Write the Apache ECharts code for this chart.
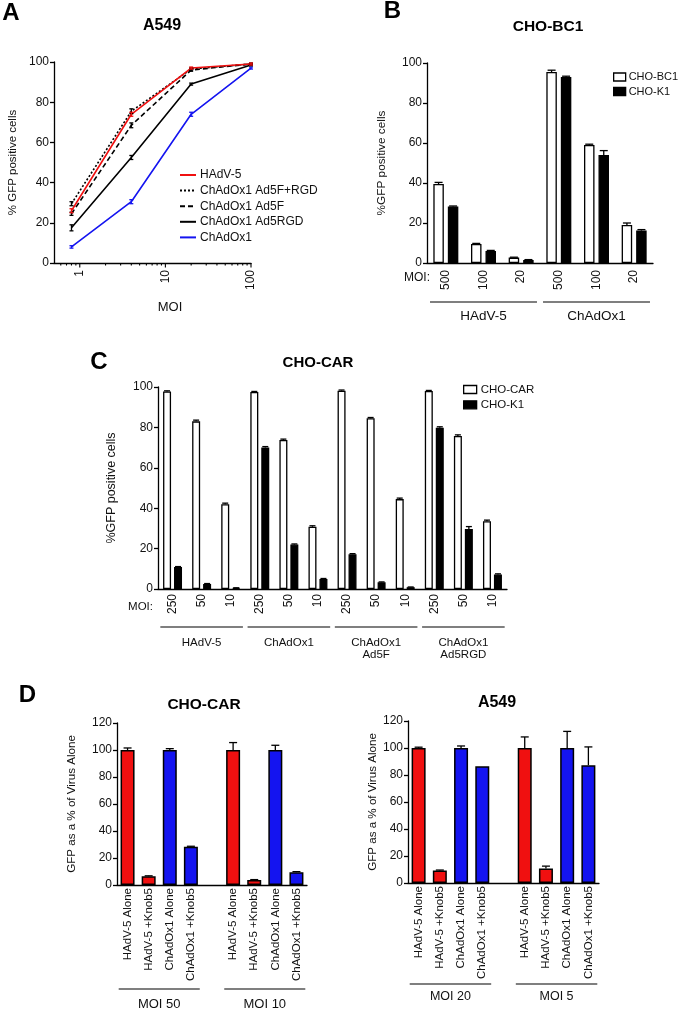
<!DOCTYPE html>
<html><head><meta charset="utf-8">
<script src="https://cdn.jsdelivr.net/npm/echarts@6/dist/echarts.min.js"></script>
<style>html,body{margin:0;padding:0;background:#fff}#c{width:685px;height:1009px}</style>
</head><body><div id="c"></div><script>
// ---------- Panel A : A549 (line, log x) ----------
const aMOI = [0.8, 4, 20, 100];
const aNames = ['HAdV-5', 'ChAdOx1 Ad5F+RGD', 'ChAdOx1 Ad5F', 'ChAdOx1 Ad5RGD', 'ChAdOx1'];
const aHAdV5 = [26, 74, 97, 99];
const aAd5FRGD = [29.5, 75.5, 96.5, 99];
const aAd5F = [24.5, 68.5, 96, 99];
const aAd5RGD = [17.5, 52.5, 89, 98.5];
const aChAdOx1 = [8, 30.5, 74, 97];
const aHAdV5Err = [1, 1, 0.5, 0.5];
const aAd5FRGDErr = [1, 1.2, 0.6, 0.4];
const aAd5FErr = [0.8, 1.2, 0.6, 0.4];
const aAd5RGDErr = [1.5, 1, 0.5, 0.4];
const aChAdOx1Err = [0.6, 1, 1, 0.5];
const aTickVals = [0.6, 0.7, 0.8, 0.9, 1, 2, 3, 4, 5, 6, 7, 8, 9, 10, 20, 30, 40, 50, 60, 70, 80, 90, 100];

// ---------- Panel B : CHO-BC1 ----------
const bCats = ['500', '100', '20', '500', '100', '20'];
const bBC1 = [39.5, 9.5, 2.7, 95.5, 59, 19];
const bBC1Err = [0.8, 0.3, 0.2, 0.9, 0.4, 1.0];
const bK1 = [28.3, 6, 1.5, 93, 54, 16.2];
const bK1Err = [0.2, 0.3, 0.2, 0.4, 2.2, 0.5];
const bGroups = [[0, 2, 'HAdV-5'], [3, 5, 'ChAdOx1']];

// ---------- Panel C : CHO-CAR ----------
const cCats = ['250', '50', '10', '250', '50', '10', '250', '50', '10', '250', '50', '10'];
const cCAR = [97.8, 83, 42, 97.5, 73.8, 30.8, 98.2, 84.5, 44.5, 98, 75.8, 33.6];
const cCARErr = [0.3, 0.6, 0.5, 0.3, 0.4, 0.5, 0.3, 0.4, 0.5, 0.3, 0.5, 0.5];
const cK1 = [10.9, 2.5, 0.5, 70, 22, 5, 17.2, 3.3, 0.9, 79.8, 29.7, 7.2];
const cK1Err = [0.2, 0.2, 0.1, 0.5, 0.3, 0.2, 0.3, 0.2, 0.1, 0.5, 1.2, 0.3];
const cGroups = [[0, 2, 'HAdV-5'], [3, 5, 'ChAdOx1'], [6, 8, 'ChAdOx1\nAd5F'], [9, 11, 'ChAdOx1\nAd5RGD']];

// ---------- Panel D : Knob5 competition ----------
const dCats = ['HAdV-5 Alone', 'HAdV-5 +Knob5', 'ChAdOx1 Alone', 'ChAdOx1 +Knob5', '',
               'HAdV-5 Alone', 'HAdV-5 +Knob5', 'ChAdOx1 Alone', 'ChAdOx1 +Knob5'];
const dCarVals = [100, 6.5, 100, 28.3, '-', 100, 3.7, 100, 9.5];
const dCarErr = [1.5, 0.3, 1, 0.4, 0, 5.5, 0.3, 3.5, 0.4];
const dCarGroups = [[0, 3, 'MOI 50'], [5, 8, 'MOI 10']];
const dA549Vals = [100, 9.3, 100, 86.5, '-', 100, 10.8, 100, 87.3];
const dA549Err = [0.6, 0.3, 1.5, 0, 0, 8.2, 1.7, 12.3, 13.5];
const dA549Groups = [[0, 3, 'MOI 20'], [5, 8, 'MOI 5']];

const FONT = "'Liberation Sans', Arial, Helvetica, sans-serif";
const TXT = '#111';
const RED = '#f01010', BLUE = '#1414f0';

function yAx(gi, max, name, gap, nameSize) {
  return {
    type: 'value', gridIndex: gi, min: 0, max: max, interval: 20,
    name: name, nameLocation: 'middle', nameGap: gap,
    nameTextStyle: { fontFamily: FONT, fontSize: nameSize, color: TXT },
    axisLine: { show: true, lineStyle: { color: '#000', width: 1.3 } },
    axisTick: { show: true, length: 4, lineStyle: { color: '#000', width: 1.3 } },
    axisLabel: { fontFamily: FONT, fontSize: 12, color: TXT, margin: 5 },
    splitLine: { show: false }
  };
}
function catAx(gi, cats, fs, margin) {
  return {
    type: 'category', gridIndex: gi, data: cats,
    axisLine: { show: true, lineStyle: { color: '#000', width: 1.3 } },
    axisTick: { show: false },
    axisLabel: { interval: 0, rotate: 90, fontFamily: FONT, fontSize: fs, color: TXT, margin: margin },
    splitLine: { show: false }
  };
}
function errSeries(xi, data, color, dx, both, capW) {
  return {
    type: 'custom', xAxisIndex: xi, yAxisIndex: xi, silent: true, z: 6,
    data: data,
    renderItem: function (params, api) {
      const x = api.value(0), y = api.value(1), e = api.value(2);
      if (!(e > 0)) return null;
      const t = api.coord([x, y + e]);
      const b = api.coord([x, both ? y - e : y]);
      const cx = t[0] + dx;
      const st = { stroke: color, lineWidth: 1.3 };
      const ch = [
        { type: 'line', shape: { x1: cx, y1: t[1], x2: cx, y2: b[1] }, style: st },
        { type: 'line', shape: { x1: cx - capW / 2, y1: t[1], x2: cx + capW / 2, y2: t[1] }, style: st }
      ];
      if (both) ch.push({ type: 'line', shape: { x1: cx - capW / 2, y1: b[1], x2: cx + capW / 2, y2: b[1] }, style: st });
      return { type: 'group', children: ch };
    }
  };
}
function bracketSeries(xi, groups, lineOff, textOff, fs, lh) {
  return {
    type: 'custom', xAxisIndex: xi, yAxisIndex: xi, silent: true,
    data: groups.map(g => [g[0], 0, g[1]]),
    renderItem: function (params, api) {
      const p0 = api.coord([api.value(0), 0]);
      const p1 = api.coord([api.value(2), 0]);
      const w = api.size([1, 0])[0];
      const x1 = p0[0] - w * 0.42, x2 = p1[0] + w * 0.42;
      const y = p0[1] + lineOff;
      return { type: 'group', children: [
        { type: 'line', shape: { x1: x1, y1: y, x2: x2, y2: y }, style: { stroke: '#000', lineWidth: 1.2 } },
        { type: 'text', x: (x1 + x2) / 2, y: p0[1] + textOff,
          style: { text: groups[params.dataIndex][2], fill: TXT, font: fs + 'px ' + FONT,
                   align: 'center', verticalAlign: 'top', textAlign: 'center', textVerticalAlign: 'top', lineHeight: lh } }
      ] };
    }
  };
}
const toErr = (xs, ys, es) => ys.map((v, i) => [xs[i], v, es[i]]);
const idx = arr => arr.map((_, i) => i);

function lineS(name, vals, color, type, z) {
  return {
    name: name, type: 'line', xAxisIndex: 0, yAxisIndex: 0, z: z,
    data: vals.map((v, i) => [aMOI[i], v]),
    symbol: 'none', lineStyle: { color: color, width: 1.6, type: type }, itemStyle: { color: color }
  };
}
function barWhite(name, xi, vals, w, gap) {
  return { name: name, type: 'bar', xAxisIndex: xi, yAxisIndex: xi, data: vals, barWidth: w, barGap: gap,
    itemStyle: { color: '#fff', borderColor: '#000', borderWidth: 1.3 } };
}
function barBlack(name, xi, vals, w, gap) {
  return { name: name, type: 'bar', xAxisIndex: xi, yAxisIndex: xi, data: vals, barWidth: w, barGap: gap,
    itemStyle: { color: '#000', borderColor: '#000', borderWidth: 1.3 } };
}
function dBar(xi, vals) {
  return { type: 'bar', xAxisIndex: xi, yAxisIndex: xi, data: vals, barWidth: 14,
    itemStyle: { borderColor: '#000', borderWidth: 1.5,
      color: p => (dCats[p.dataIndex].indexOf('HAdV') === 0 ? RED : BLUE) } };
}

const isPow10 = v => Math.abs(Math.log10(v) - Math.round(Math.log10(v))) < 1e-6;

const option = {
  backgroundColor: '#fff',
  animation: false,
  textStyle: { fontFamily: FONT },
  grid: [
    { left: 54, top: 62, width: 197, height: 201 },
    { left: 427, top: 63, width: 226, height: 200 },
    { left: 158, top: 387, width: 349, height: 202 },
    { left: 117, top: 723, width: 190, height: 162 },
    { left: 408, top: 721, width: 191, height: 162 }
  ],
  xAxis: [
    { type: 'log', gridIndex: 0, logBase: 10, min: 0.5, max: 100,
      axisLine: { show: true, lineStyle: { color: '#000', width: 1.3 } },
      axisTick: { show: false },
      axisLabel: { rotate: 90, fontFamily: FONT, fontSize: 12, color: TXT, margin: 7,
        showMinLabel: false,
        formatter: v => (isPow10(v) ? String(Math.round(v)) : '') },
      splitLine: { show: false }, minorTick: { show: false }, minorSplitLine: { show: false } },
    catAx(1, bCats, 12, 7),
    catAx(2, cCats, 12, 5),
    catAx(3, dCats, 11.5, 3),
    catAx(4, dCats, 11.5, 3)
  ],
  yAxis: [
    yAx(0, 100, '% GFP positive cells', 35, 11.5),
    yAx(1, 100, '%GFP positive cells', 39, 11.8),
    yAx(2, 100, '%GFP positive cells', 40, 12.5),
    yAx(3, 120, 'GFP as a % of Virus Alone', 39, 11.6),
    yAx(4, 120, 'GFP as a % of Virus Alone', 29, 11.6)
  ],
  legend: [
    { data: aNames, orient: 'vertical', left: 179, top: 169, padding: 0, itemWidth: 16, itemHeight: 10, itemGap: 3.6,
      itemStyle: { opacity: 0, borderWidth: 0 },
      textStyle: { fontFamily: FONT, fontSize: 12, color: TXT, lineHeight: 10, padding: [0, 0, 0, -1] },
      selectedMode: false },
    { data: ['CHO-BC1', 'CHO-K1'], orient: 'vertical', left: 613, top: 71.5, padding: 0, itemWidth: 12, itemHeight: 8, itemGap: 3.5,
      icon: 'rect', itemStyle: { borderColor: '#000', borderWidth: 1.3 },
      textStyle: { fontFamily: FONT, fontSize: 11, color: TXT, lineHeight: 10, padding: [0, 0, 0, -2] }, selectedMode: false },
    { data: ['CHO-CAR', 'CHO-K1'], orient: 'vertical', left: 463, top: 383.5, padding: 0, itemWidth: 13, itemHeight: 8, itemGap: 3.3,
      icon: 'rect', itemStyle: { borderColor: '#000', borderWidth: 1.3 },
      textStyle: { fontFamily: FONT, fontSize: 11.5, color: TXT, lineHeight: 10, padding: [0, 0, 0, -1] }, selectedMode: false }
  ],
  graphic: [
    { type: 'text', x: 11, y: 13.5, style: { text: 'A', font: 'bold 24px ' + FONT, fill: '#000', align: 'center', verticalAlign: 'middle' } },
    { type: 'text', x: 162, y: 26, style: { text: 'A549', font: 'bold 16px ' + FONT, fill: '#000', align: 'center', verticalAlign: 'middle' } },
    { type: 'text', x: 170, y: 307, style: { text: 'MOI', font: '13px ' + FONT, fill: TXT, align: 'center', verticalAlign: 'middle' } },
    { type: 'text', x: 392.5, y: 11.5, style: { text: 'B', font: 'bold 24px ' + FONT, fill: '#000', align: 'center', verticalAlign: 'middle' } },
    { type: 'text', x: 548, y: 27, style: { text: 'CHO-BC1', font: 'bold 15.5px ' + FONT, fill: '#000', align: 'center', verticalAlign: 'middle' } },
    { type: 'text', x: 430, y: 278, style: { text: 'MOI:', font: '12px ' + FONT, fill: TXT, align: 'right', verticalAlign: 'middle' } },
    { type: 'text', x: 99, y: 362.5, style: { text: 'C', font: 'bold 24px ' + FONT, fill: '#000', align: 'center', verticalAlign: 'middle' } },
    { type: 'text', x: 318, y: 363, style: { text: 'CHO-CAR', font: 'bold 15px ' + FONT, fill: '#000', align: 'center', verticalAlign: 'middle' } },
    { type: 'text', x: 153, y: 606.7, style: { text: 'MOI:', font: '11.5px ' + FONT, fill: TXT, align: 'right', verticalAlign: 'middle' } },
    { type: 'text', x: 27.5, y: 695, style: { text: 'D', font: 'bold 24px ' + FONT, fill: '#000', align: 'center', verticalAlign: 'middle' } },
    { type: 'text', x: 204, y: 705, style: { text: 'CHO-CAR', font: 'bold 15.5px ' + FONT, fill: '#000', align: 'center', verticalAlign: 'middle' } },
    { type: 'text', x: 497, y: 703, style: { text: 'A549', font: 'bold 16px ' + FONT, fill: '#000', align: 'center', verticalAlign: 'middle' } }
  ],
  series: [
    // Panel A
    lineS('ChAdOx1', aChAdOx1, BLUE, 'solid', 2),
    lineS('ChAdOx1 Ad5RGD', aAd5RGD, '#000', 'solid', 2),
    lineS('ChAdOx1 Ad5F', aAd5F, '#000', [5, 3], 2),
    lineS('ChAdOx1 Ad5F+RGD', aAd5FRGD, '#000', [2, 2], 2),
    lineS('HAdV-5', aHAdV5, RED, 'solid', 3),
    errSeries(0, toErr(aMOI, aChAdOx1, aChAdOx1Err), BLUE, 0, true, 4),
    errSeries(0, toErr(aMOI, aAd5RGD, aAd5RGDErr), '#000', 0, true, 4),
    errSeries(0, toErr(aMOI, aAd5F, aAd5FErr), '#000', 0, true, 4),
    errSeries(0, toErr(aMOI, aAd5FRGD, aAd5FRGDErr), '#000', 0, true, 4),
    errSeries(0, toErr(aMOI, aHAdV5, aHAdV5Err), RED, 0, true, 4),
    { type: 'custom', xAxisIndex: 0, yAxisIndex: 0, silent: true, data: aTickVals.map(v => [v, 0]),
      renderItem: function (params, api) {
        const v = api.value(0);
        const p = api.coord([v, 0]);
        const len = isPow10(v) ? 4.5 : 2.5;
        return { type: 'line', shape: { x1: p[0], y1: p[1], x2: p[0], y2: p[1] + len }, style: { stroke: '#000', lineWidth: 1.1 } };
      } },
    // Panel B
    barWhite('CHO-BC1', 1, bBC1, 10.5, '38%'),
    barBlack('CHO-K1', 1, bK1, 10.5, '38%'),
    errSeries(1, toErr(idx(bCats), bBC1, bBC1Err), '#000', -7.25, false, 8),
    errSeries(1, toErr(idx(bCats), bK1, bK1Err), '#000', 7.25, false, 8),
    bracketSeries(1, bGroups, 39, 45, 13.5, 16),
    // Panel C
    barWhite('CHO-CAR', 2, cCAR, 8, '37%'),
    barBlack('CHO-K1', 2, cK1, 8, '37%'),
    errSeries(2, toErr(idx(cCats), cCAR, cCARErr), '#000', -5.5, false, 6),
    errSeries(2, toErr(idx(cCats), cK1, cK1Err), '#000', 5.5, false, 6),
    bracketSeries(2, cGroups, 38, 48, 11.5, 12),
    // Panel D
    dBar(3, dCarVals),
    errSeries(3, toErr(idx(dCats), dCarVals, dCarErr), '#000', 0, false, 8),
    bracketSeries(3, dCarGroups, 104, 112, 13, 14),
    dBar(4, dA549Vals),
    errSeries(4, toErr(idx(dCats), dA549Vals, dA549Err), '#000', 0, false, 8),
    bracketSeries(4, dA549Groups, 101, 107, 12.5, 14)
  ]
};
const chart = echarts.init(document.getElementById('c'), null, { renderer: 'canvas' });
chart.setOption(option);
</script></body></html>
